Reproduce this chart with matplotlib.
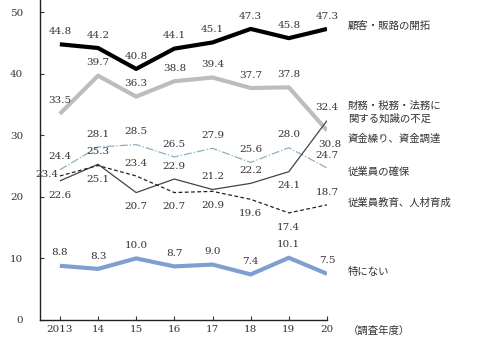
import matplotlib
matplotlib.use('Agg')
import matplotlib.pyplot as plt

plt.rcParams['font.family'] = ['DejaVu Serif', 'Noto Sans CJK JP']

years = ['2013', '14', '15', '16', '17', '18', '19', '20']

customers = [44.8, 44.2, 40.8, 44.1, 45.1, 47.3, 45.8, 47.3]
funding = [33.5, 39.7, 36.3, 38.8, 39.4, 37.7, 37.8, 30.8]
knowledge = [22.6, 25.3, 20.7, 22.9, 21.2, 22.2, 24.1, 32.4]
hiring = [24.4, 28.1, 28.5, 26.5, 27.9, 25.6, 28.0, 24.7]
training = [23.4, 25.1, 23.4, 20.7, 20.9, 19.6, 17.4, 18.7]
nothing = [8.8, 8.3, 10.0, 8.7, 9.0, 7.4, 10.1, 7.5]

names = ['顧客・販路の開拓', '財務・税務・法務に\n関する知識の不足', '資金繰り、資金調達',
         '従業員の確保', '従業員教育、人材育成', '特にない']
name_y = [47.8, 33.7, 29.5, 24.0, 19.0, 7.8]

fig = plt.figure(figsize=(5, 3.4), dpi=100)
ax = fig.add_axes([0.08, 0.059, 0.574, 0.941])
x = list(range(len(years)))

# label side per point: 1 above, -1 below, 0 left of point
styles = [
    (customers, dict(color='black', lw=3.0), [1, 1, 1, 1, 1, 1, 1, 1]),
    (funding, dict(color='#bdbdbd', lw=3.0), [1, 1, 1, 1, 1, 1, 1, -1]),
    (hiring, dict(color='#8fb0c0', lw=0.9, ls='-.'), [1, 1, 1, 1, 1, 1, 1, 1]),
    (knowledge, dict(color='#444444', lw=0.9), [-1, 1, -1, 1, 1, 1, -1, 1]),
    (training, dict(color='#222222', lw=0.9, ls=(0, (3, 2))), [0, -1, 1, -1, -1, -1, -1, 1]),
    (nothing, dict(color='#7f9fd0', lw=3.0), [1, 1, 1, 1, 1, 1, 1, 1]),
]

for vals, st, sides in styles:
    ax.plot(x, vals, solid_capstyle='butt', **st)
    for i, v in enumerate(vals):
        side = sides[i]
        if side == 0:
            ax.annotate(f'{v:.1f}', (i, v), xytext=(-1, 1), textcoords='offset points',
                        ha='right', va='center', fontsize=7.5, color='#333333')
            continue
        dx = 2 if (vals is funding and i == 7) else 0
        ax.annotate(f'{v:.1f}', (i, v), xytext=(dx, 6 if side > 0 else -7),
                    textcoords='offset points', ha='center',
                    va='bottom' if side > 0 else 'top', fontsize=7.5, color='#333333')

for n, y in zip(names, name_y):
    ax.text(7.55, y, n, fontsize=7.5, color='#333333', va='center', ha='left',
            family='Noto Sans CJK JP', clip_on=False, linespacing=1.3)
ax.text(7.55, -1.7, '（調査年度）', fontsize=7.5, color='#333333', va='center', ha='left',
        family='Noto Sans CJK JP', clip_on=False)

ax.set_xlim(-0.52, 7)
ax.set_ylim(0, 52)
ax.set_yticks([0, 10, 20, 30, 40, 50])
ax.set_xticks(x)
ax.set_xticklabels(years)
ax.tick_params(direction='in', length=3, labelsize=7.5, colors='#333333', width=0.8)
ax.tick_params(axis='y', pad=12)
for s in ['top', 'right']:
    ax.spines[s].set_visible(False)
for s in ['left', 'bottom']:
    ax.spines[s].set_linewidth(1.0)
    ax.spines[s].set_color('#222222')

fig.savefig('out.png', dpi=100)
